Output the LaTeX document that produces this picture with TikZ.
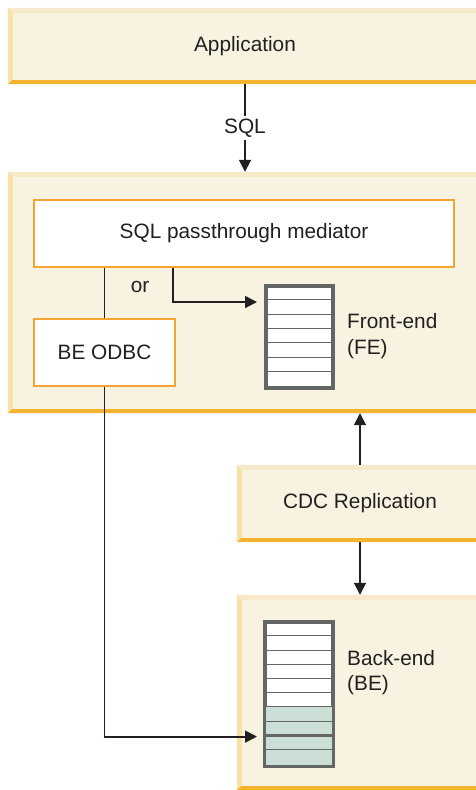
\documentclass[tikz,border=0pt]{standalone}
\usepackage{fontspec}
\setmainfont{Liberation Sans}
\usetikzlibrary{arrows.meta,calc}
\definecolor{cream}{HTML}{F8F2E0}
\definecolor{topbev}{HTML}{F6EACB}
\definecolor{leftbev}{HTML}{F8E2A6}
\definecolor{bandc}{HTML}{F3B32F}
\definecolor{obord}{HTML}{F5A431}
\definecolor{tgrey}{HTML}{636664}
\definecolor{tgreen}{HTML}{CCDFD6}
\definecolor{ink}{HTML}{231F20}
\newcommand\panelbevel[1]{%
 \fill[topbev] (#1.north west) -- (#1.north east) -- ([yshift=-5pt]#1.north east) -- ([shift={(5pt,-5pt)}]#1.north west) -- cycle;
 \fill[leftbev] (#1.north west) -- ([shift={(5pt,-5pt)}]#1.north west) -- ([shift={(5pt,4pt)}]#1.south west) -- (#1.south west) -- cycle;
 \fill[bandc] (#1.south west) -- ([shift={(4pt,4pt)}]#1.south west) -- ([yshift=4pt]#1.south east) -- (#1.south east) -- cycle;
}
\tikzset{
  panel/.style={fill=cream, inner sep=0pt, text=ink, font=\fontsize{20.8}{25.5}\selectfont},
  innerbox/.style={draw=obord, line width=1.6pt, fill=white, inner sep=0pt, text=ink, font=\fontsize{20.8}{25.5}\selectfont},
  lbl/.style={inner sep=0pt, text=ink, font=\fontsize{20.8}{25.5}\selectfont},
  conn/.style={draw=ink, line width=1.8pt},
  arr/.style={conn, -{Triangle[length=12pt,width=12pt]}},
  tab/.style={draw=tgrey, line width=2.7pt, inner sep=0pt},
}
\begin{document}
\begin{tikzpicture}[x=1pt,y=-1pt]
\useasboundingbox (0,0) rectangle (476,790);
\clip (0,0) rectangle (476,790);
% panels
\node[panel, minimum width=474pt, minimum height=76pt] (app) at (245,46) {};
\panelbevel{app}
\node[lbl] (apptext) at (app.center) {Application};
\node[panel, minimum width=474pt, minimum height=241pt] (fepanel) at (245,292.5) {};
\panelbevel{fepanel}
\node[panel, minimum width=246pt, minimum height=77pt] (cdc) at (360,503.5) {};
\panelbevel{cdc}
\node[lbl] (cdctext) at (cdc.center) {CDC Replication};
\node[panel, minimum width=246pt, minimum height=195pt] (bepanel) at (360,692.5) {};
\panelbevel{bepanel}
% inner boxes
\node[innerbox, minimum width=420pt, minimum height=67pt] (med) at (244,233.5) {SQL passthrough mediator};
\node[innerbox, minimum width=141pt, minimum height=67pt] (odbc) at (104.5,352.5) {BE ODBC};
% FE table
\node[tab, fill=white, minimum width=65pt, minimum height=100pt] (fetab) at (299.5,337) {};
\foreach \i in {1,...,6}{
  \draw[tgrey, line width=1pt] ($(fetab.north west)+(0,\i*100/7)$) -- ($(fetab.north east)+(0,\i*100/7)$);
}
\draw[tab] (fetab.north west) rectangle (fetab.south east);
% BE table
\node[tab, fill=white, minimum width=66pt, minimum height=142pt] (betab) at (299,694) {};
\fill[tgreen] ($(betab.north west)+(0,6*14.2)$) rectangle (betab.south east);
\foreach \i in {1,...,7,9}{
  \draw[tgrey, line width=1pt] ($(betab.north west)+(0,\i*14.2)$) -- ($(betab.north east)+(0,\i*14.2)$);
}
\draw[tgrey, line width=3pt] ($(betab.north west)+(0,8*14.2)$) -- ($(betab.north east)+(0,8*14.2)$);
\draw[tab] (betab.north west) rectangle (betab.south east);
% labels
\node[lbl, anchor=west, align=left] (felbl) at (347,336) {Front-end\\(FE)};
\node[lbl, anchor=west, align=left] (belbl) at (347,672.5) {Back-end\\(BE)};
% connectors
\draw[arr] (app.south) -- node[lbl, fill=white, inner ysep=3pt] (sql) {SQL} (app.south |- fepanel.north);
\draw[conn] (odbc.north |- med.south) -- (odbc.north);
\node[lbl] (or) at (140,287) {or};
\coordinate (medout) at ($(med.south west)+(140,0)$);
\coordinate (feIn) at (257,302);
\draw[arr] (medout) |- (feIn);
\coordinate (beIn) at (257,736.6);
\draw[arr] (odbc.south) |- (beIn);
\draw[arr] (cdc.north) -- (cdc.north |- fepanel.south);
\draw[arr] (cdc.south) -- (cdc.south |- bepanel.north);
\end{tikzpicture}
\end{document}
